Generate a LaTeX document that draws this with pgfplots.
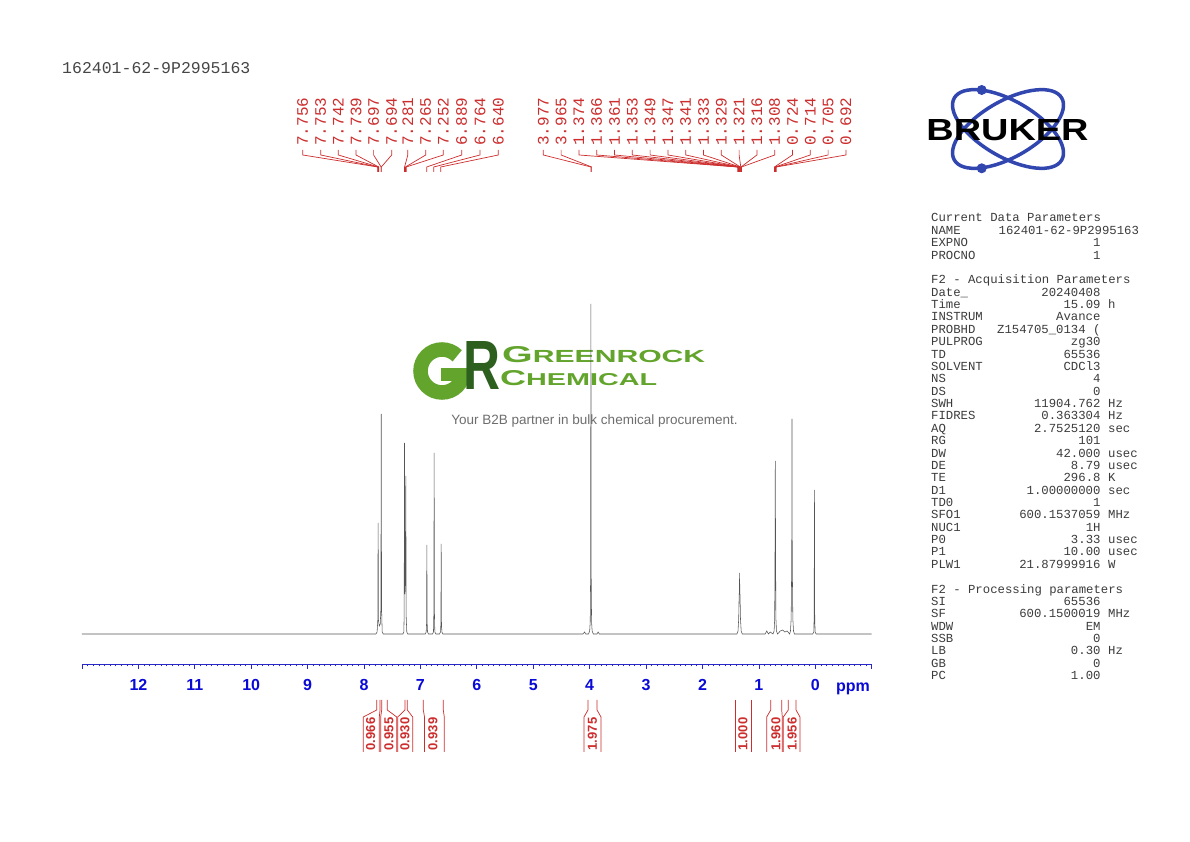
\documentclass[border=0pt]{standalone}
\usepackage{fontspec}
\setmainfont{Liberation Sans}
\newfontfamily\mono{Liberation Mono}
\usepackage{graphicx}
\usepackage{pgfplots}
\pgfplotsset{compat=1.18}
\definecolor{specgray}{RGB}{85,85,85}
\definecolor{axblue}{RGB}{40,40,200}
\definecolor{tickblue}{RGB}{10,10,215}
\definecolor{pkred}{RGB}{205,45,45}
\definecolor{parcol}{RGB}{60,60,60}
\definecolor{lgreen}{RGB}{98,164,44}
\definecolor{dgreen}{RGB}{45,95,30}
\definecolor{bblue}{RGB}{50,70,175}
\tikzset{px/.style={x=1pt,y=-1pt,shift={(0pt,842pt)}}}
\newcommand\prm[4]{%
  \pgfmathsetmacro\yy{222+#1*12.37}%
  \node[anchor=base west] at (931,\yy) {#2};%
  \node[anchor=base east] at (1100.7,\yy) {#3};%
  \node[anchor=base west] at (1108,\yy) {#4};}
\begin{document}
\begin{tikzpicture}
\path[fill=white] (0,0) rectangle (1190pt,842pt);
% ---------- background decorations (logo) ----------
\begin{scope}[px]
  % Greenrock logo
  \draw[lgreen, line width=14.5pt] (457.2,355.8) arc[start angle=45, end angle=360, radius=21.5pt];
  \fill[lgreen] (441,368) rectangle (470.5,381);
  \node[anchor=south west, inner sep=0, text=dgreen] at (463,390) {\resizebox{37pt}{48pt}{\bfseries R}};
  \node[anchor=south west, inner sep=0, text=lgreen] at (502,363) {\resizebox{203pt}{16pt}{\bfseries{\fontsize{17}{17}\selectfont G}{\fontsize{13}{13}\selectfont REENROCK}}};
  \node[anchor=south west, inner sep=0, text=lgreen] at (500,385.5) {\resizebox{157pt}{15pt}{\bfseries{\fontsize{15}{15}\selectfont C}{\fontsize{12}{12}\selectfont HEMICAL}}};
  \node[text={rgb,255:red,110;green,110;blue,110}, font=\fontsize{13.5}{13.5}\selectfont] at (594.5,421) {Your B2B partner in bulk chemical procurement.};
\end{scope}
% ---------- spectrum ----------
\begin{axis}[
  at={(82pt,178pt)}, anchor=south west,
  scale only axis, width=789.7pt, height=530pt,
  xmin=-1, xmax=13, x dir=reverse,
  ymin=-30, ymax=500,
  axis y line=none, axis x line*=bottom,
  axis line style={-, draw=axblue, line width=0.9pt},
  xtick={-1,0,...,13},
  xticklabels={{},0,1,2,3,4,5,6,7,8,9,10,11,12,{}},
  minor x tick num=9,
  tick align=outside,
  major tick length=5pt, minor tick length=2.5pt,
  every tick/.style={draw=axblue, line width=0.7pt},
  xticklabel style={font=\bfseries\fontsize{16}{16}\selectfont, text=tickblue, yshift=-7pt},
  ytick=\empty,
]
\addplot[specgray, line width=0.55pt] coordinates {
(13,0) (7.79,0) (7.768,2) (7.756,14) (7.750,111) (7.744,14) (7.73,8) (7.712,10) (7.701,26)
(7.695,220) (7.689,26) (7.678,2) (7.66,0)
(7.31,0) (7.294,2) (7.288,22) (7.283,191) (7.277,40) (7.270,45) (7.259,158) (7.253,18) (7.242,2) (7.225,0)
(6.915,0) (6.898,2) (6.891,11) (6.886,89) (6.881,11) (6.874,2) (6.857,0)
(6.787,0) (6.769,2) (6.762,22) (6.757,181) (6.752,22) (6.745,2) (6.727,0)
(6.662,0) (6.644,2) (6.637,11) (6.632,90) (6.627,11) (6.620,2) (6.602,0)
(4.12,0) (4.09,2) (4.07,0) (4.02,0) (4.00,3) (3.99,12) (3.983,60) (3.978,330)
(3.973,60) (3.966,12) (3.956,3) (3.935,0) (3.87,0) (3.85,2) (3.83,0)
(1.39,0) (1.37,3) (1.358,15) (1.350,39) (1.346,42) (1.342,61) (1.338,42) (1.334,39) (1.326,15) (1.314,3) (1.295,0)
(0.89,0) (0.86,3) (0.83,0) (0.80,2) (0.75,0) (0.73,3) (0.72,15) (0.714,80) (0.709,173)
(0.704,80) (0.698,15) (0.688,3) (0.67,0) (0.62,3) (0.58,4) (0.54,2) (0.50,3)
(0.455,0) (0.44,3) (0.428,15) (0.42,60) (0.416,105) (0.413,215) (0.410,105) (0.406,60) (0.398,15) (0.386,3) (0.37,0)
(0.045,0) (0.027,2) (0.020,17) (0.015,144) (0.010,17) (0.003,2) (-0.015,0) (-1,0)
};
\end{axis}
% ---------- foreground annotations ----------
\begin{scope}[px]
  % title
  \node[anchor=west, inner sep=0, text={rgb,255:red,70;green,70;blue,70}, font=\mono\fontsize{16.5}{16.5}\selectfont] at (62,68) {162401-62-9P2995163};
  % ppm
  \node[anchor=base, inner sep=0, font=\bfseries\fontsize{16}{16}\selectfont, text=tickblue] at (853,691.5) {ppm};
  % peak labels
  \foreach \lx/\pp in {302.7/7.756,320.7/7.753,338.3/7.742,356/7.739,373.6/7.697,391.7/7.694,
      407.8/7.281,425.7/7.265,443.3/7.252,461.7/6.889,480/6.764,498.3/6.640,
      543.3/3.977,561.1/3.965,578.9/1.374,596.7/1.366,614.5/1.361,632.3/1.353,650.1/1.349,667.9/1.347,
      685.7/1.341,703.5/1.333,721.3/1.329,739.1/1.321,756.9/1.316,774.7/1.308,792.5/0.724,810.3/0.714,
      828.1/0.705,845.9/0.692}{
    \node[anchor=west, rotate=90, inner sep=0, text=pkred, font=\mono\fontsize{16}{16}\selectfont] at (\lx,146) {\pp};
    \draw[pkred, line width=0.7pt] (\lx,150) -- (\lx,155) -- ({815.3-56.41*\pp},167) -- ({815.3-56.41*\pp},172);
  }
  % integrals
  \foreach \a/\b/\c/\d/\lx/\v in {376.7/380/363.3/379.3/370.7/0.966, 381.7/387.3/380.7/396.7/389/0.955,
      405/407.3/397.7/412.7/405/0.930, 423.3/443.3/424.5/444.3/433/0.939,
      588/597/584/601/592.5/1.975, 735/751/735/751/743/1.000,
      770.7/781.7/766.7/782.3/776/1.960, 788.3/796/783.3/800/792.2/1.956}{
    \draw[pkred, line width=0.7pt] (\a,700) -- (\a,710) -- (\c,717) -- (\c,752);
    \draw[pkred, line width=0.7pt] (\b,700) -- (\b,710) -- (\d,717) -- (\d,752);
    \node[rotate=90, inner sep=0, text=pkred, font=\bfseries\fontsize{13}{13}\selectfont] at (\lx,734) {\v};
  }
  % Bruker logo
  \draw[bblue, line width=3.5pt, rotate around={30:(1008,129)}] (1008,129) ellipse [x radius=62pt, y radius=28pt];
  \draw[bblue, line width=3.5pt, rotate around={-30:(1008,129)}] (1008,129) ellipse [x radius=62pt, y radius=28pt];
  \fill[bblue] (981.7,90) circle[radius=5pt];
  \fill[bblue] (981.7,168.3) circle[radius=5pt];
  \node[inner sep=0] at (1007.5,130) {\resizebox{162pt}{21pt}{\bfseries BRUKER}};
  % parameters
  \begin{scope}[every node/.style={inner sep=0, text=parcol, font=\mono\fontsize{12.3}{12.3}\selectfont}]
    \prm{0}{Current Data Parameters}{}{}
    \node[anchor=base west] at (931,234.37) {NAME};
    \node[anchor=base west] at (998.5,234.37) {162401-62-9P2995163};
    \prm{2}{EXPNO}{1}{}
    \prm{3}{PROCNO}{1}{}
    \prm{5}{F2 - Acquisition Parameters}{}{}
    \prm{6}{Date\_}{20240408}{}
    \prm{7}{Time}{15.09}{h}
    \prm{8}{INSTRUM}{Avance}{}
    \prm{9}{PROBHD}{Z154705\_0134 (}{}
    \prm{10}{PULPROG}{zg30}{}
    \prm{11}{TD}{65536}{}
    \prm{12}{SOLVENT}{CDCl3}{}
    \prm{13}{NS}{4}{}
    \prm{14}{DS}{0}{}
    \prm{15}{SWH}{11904.762}{Hz}
    \prm{16}{FIDRES}{0.363304}{Hz}
    \prm{17}{AQ}{2.7525120}{sec}
    \prm{18}{RG}{101}{}
    \prm{19}{DW}{42.000}{usec}
    \prm{20}{DE}{8.79}{usec}
    \prm{21}{TE}{296.8}{K}
    \prm{22}{D1}{1.00000000}{sec}
    \prm{23}{TD0}{1}{}
    \prm{24}{SFO1}{600.1537059}{MHz}
    \prm{25}{NUC1}{1H}{}
    \prm{26}{P0}{3.33}{usec}
    \prm{27}{P1}{10.00}{usec}
    \prm{28}{PLW1}{21.87999916}{W}
    \prm{30}{F2 - Processing parameters}{}{}
    \prm{31}{SI}{65536}{}
    \prm{32}{SF}{600.1500019}{MHz}
    \prm{33}{WDW}{EM}{}
    \prm{34}{SSB}{0}{}
    \prm{35}{LB}{0.30}{Hz}
    \prm{36}{GB}{0}{}
    \prm{37}{PC}{1.00}{}
  \end{scope}
\end{scope}
\end{tikzpicture}
\end{document}
